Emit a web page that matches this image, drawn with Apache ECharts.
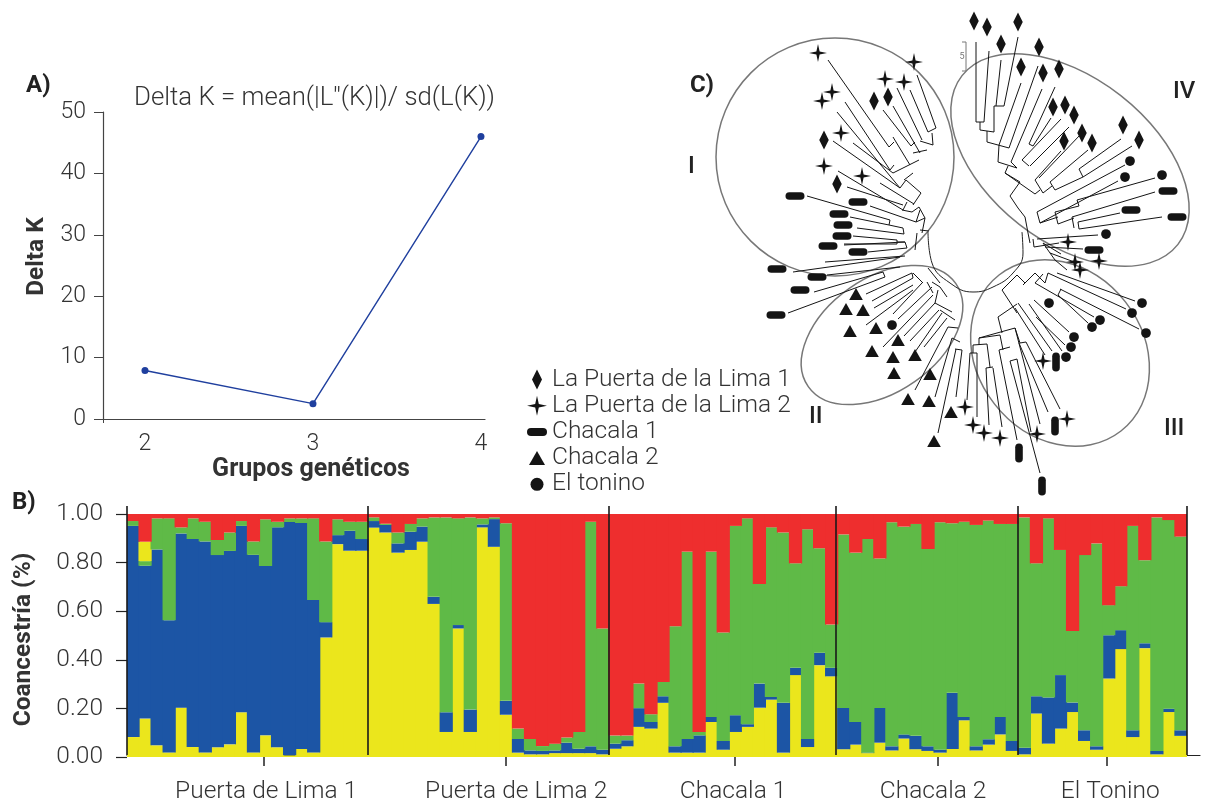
<!DOCTYPE html>
<html><head><meta charset="utf-8">
<style>html,body{margin:0;padding:0;background:#fff}#c{width:1216px;height:804px}</style>
<script src="https://cdn.jsdelivr.net/npm/echarts@6/dist/echarts.min.js"></script>
</head><body><div id="c"></div>
<script>
// ---------- Panel A ----------
const kValues = [[2, 7.9], [3, 2.5], [4, 46]];
const kTicks = [2, 3, 4];

// ---------- Panel B: cumulative tops of each layer per individual ----------
const populations = ['Puerta de Lima 1', 'Puerta de Lima 2', 'Chacala 1', 'Chacala 2', 'El Tonino'];
const populationBoundaries = [0, 20, 40, 58.85, 73.9, 87.95];
const populationTicks = [11.37, 31.4, 50.4, 67.3, 81.3];
const populationLabelAt = [11.55, 32.3, 50.3, 66.9, 81.6];
const coTicks = [0, 0.2, 0.4, 0.6, 0.8, 1];
const yellowTop = [
 .082,.158,.048,.019,.203,.041,.019,.040,.052,.184,.019,.089,.040,.007,.033,.019,.492,.876,.849,.849,
 .944,.924,.841,.852,.886,.630,.103,.529,.103,.945,.865,.174,.018,.011,.011,.016,.016,.016,.016,.011,
 .034,.044,.124,.117,.223,.018,.018,.018,.144,.030,.103,.124,.203,.236,.018,.337,.041,.378,.332,
 .032,.051,.016,.059,.027,.076,.032,.025,.018,.033,.151,.027,.051,.093,.025,
 .011,.179,.055,.117,.185,.066,.030,.323,.444,.082,.448,.011,.185,.087];
const blueTop = [
 .951,.787,.854,.563,.920,.897,.887,.831,.848,.951,.832,.786,.945,.967,.963,.646,.555,.913,.931,.897,
 .971,.955,.879,.927,.948,.659,.184,.543,.195,.957,.979,.231,.074,.027,.025,.027,.059,.034,.044,.030,
 .055,.069,.201,.144,.250,.044,.074,.089,.165,.066,.172,.135,.302,.247,.223,.367,.074,.429,.367,
 .202,.144,.018,.202,.044,.093,.087,.044,.030,.264,.165,.044,.073,.165,.066,
 .038,.250,.245,.337,.224,.110,.044,.501,.522,.110,.468,.025,.199,.110];
const greenLowTop = { 1: .806 };   // individual 2: small green block under its upper yellow block
const yellowHighTop = { 1: .886 }; // individual 2: upper yellow block
const greenTop = [
 .971,.886,.982,.982,.945,.982,.968,.893,.924,.971,.887,.978,.968,.982,.982,.982,.887,.978,.968,.968,
 .986,.960,.924,.959,.982,.986,.986,.982,.986,.982,.986,.962,.117,.074,.045,.055,.080,.103,.968,.529,
 .088,.088,.302,.176,.309,.538,.845,.103,.845,.512,.951,.982,.712,.945,.924,.797,.937,.859,.545,
 .916,.841,.897,.817,.966,.948,.959,.856,.966,.962,.968,.955,.973,.959,.959,
 .986,.797,.982,.852,.519,.831,.879,.625,.703,.951,.810,.986,.975,.907];
const individuals = yellowTop.map((_, i) => String(i + 1));

// ---------- Panel C: dendrogram (x, y on a hidden scale) ----------
const diamonds = [[874,101],[888,97],[824,140],[837,184],[974,21],[987,27],[1018,22],[1001,44],[1039,47],[1021,67],[1043,73],[1059,69],[1053,107],[1065,105],[1074,115],[1082,133],[1064,141],[1092,143],[1123,125],[1139,140]];
const stars = [[818,53],[914,62],[885,79],[904,82],[832,92],[822,101],[841,133],[824,166],[862,176],[1068,242],[1099,261],[1075,262],[1080,270],[1043,361],[1067,419],[1037,434],[965,407],[973,425],[984,433],[1000,438]];
const pillsFlat = [[795,196],[858,202],[839,214],[843,225],[842,236],[828,246],[858,252],[777,269],[817,277],[800,290],[776,315],[1168,191],[1131,210],[1177,217],[1094,250]];
const pillsUpright = [[1056,362],[1055,426],[1019,453],[1042,486]];
const triangles = [[856,294],[846,309],[863,310],[850,331],[876,328],[898,340],[872,351],[893,357],[915,355],[894,373],[930,374],[908,399],[929,401],[951,412],[934,441]];
const circles = [[892,325],[1130,161],[1125,177],[1162,175],[1106,234],[1142,303],[1132,313],[1146,333],[1100,320],[1092,327],[1049,303],[1074,337],[1071,347],[1066,357]];

// cluster outlines: centre x, centre y, semi-axis a, semi-axis b, tilt in degrees
const clusterOutlines = [[835,157,119,119,0],[882,335,90,57,35],[1060,353,99,83,-52],[1070,160,137,82,-38]];
const centreArc = [[928,232],[932,263],[950,283],[973,292],[993,287],[1013,273],[1023,253],[1022,232]];
const scaleBar = [[962,42],[966,42],[966,71],[962,71]];

const branches = [
 // cluster IV
 [976,42,976,122],[976,122,984,122],[989,51,984,122],[980,122,980,130],[980,130,994,132],[994,106,994,132],
 [1001,60,996,106],[1018,37,1004,106],[994,106,1004,106],[987,131,987,142],[987,142,1009,148],[1021,83,999,145],[1038,66,1009,148],
 [999,145,998,162],[998,162,1017,168],[1042,89,1011,162],[1055,87,1029,144],[1029,144,1033,146],[1051,118,1033,146],
 [1061,119,1022,160],[1022,160,1029,166],[1069,127,1030,166],[1011,162,1017,168],[1005,173,1008,166],[1005,173,1035,194],[1035,194,1040,190],
 [1061,151,1035,180],[1080,135,1039,178],[1088,150,1050,182],[1121,139,1079,169],[1132,146,1083,177],[1079,169,1083,177],
 [1035,180,1043,193],[1043,193,1052,186],[1050,182,1055,190],[1055,190,1083,177],
 [1020,182,1010,196],[1010,196,1018,208],[1018,208,1025,217],[1025,217,1028,233],[1028,233,1030,243],[1020,182,1005,173],
 [1125,165,1037,212],[1118,181,1040,223],[1037,212,1040,223],[1040,223,1058,217],[1155,178,1077,200],[1077,200,1079,206],[1079,206,1055,212],
 [1055,212,1058,224],[1058,224,1074,218],[1155,192,1072,217],[1072,217,1074,228],[1120,213,1078,222],[1078,222,1079,229],[1162,217,1079,229],
 [1098,235,1037,239],[1059,243,1034,247],[1033,239,1034,247],[1061,254,1043,243],[1083,249,1045,247],[1050,253,1077,263],[1055,260,1067,270],[1043,243,1050,253],[1050,253,1055,260],
 // cluster III
 [1135,301,1057,273],[1126,309,1048,273],[1045,283,1048,273],[1139,329,1060,289],[1058,295,1061,289],[1094,317,1035,283],[1088,323,1058,295],
 [1069,332,1034,300],[1062,351,1029,304],[1065,345,1036,317],[1052,351,1018,303],[1045,355,1015,308],[1060,409,1026,342],[1048,412,1019,343],
 [1040,424,1015,328],[1040,473,1010,361],[1010,361,1017,359],[1017,440,999,350],[999,350,1010,347],[1031,432,1017,359],[1002,427,993,368],[989,425,986,368],[986,368,993,367],
 [977,417,977,353],[967,400,970,353],[970,353,977,353],[973,345,973,353],[973,345,987,344],[987,344,990,367],[979,338,979,345],[979,338,1000,335],[1000,335,1003,350],
 [998,317,1002,333],[998,317,1017,304],[1015,328,979,338],[1015,328,1020,343],[1020,343,1026,342],[1002,290,1017,313],[1002,290,1017,275],[1017,275,1025,283],[1023,285,1035,273],[1035,273,1045,283],[1035,283,1043,274],
 // cluster II
 [793,272,900,257],[827,275,900,267],[814,292,883,272],[788,313,885,277],[883,272,885,277],[866,294,912,273],[872,301,913,278],[912,273,913,278],
 [874,308,913,285],[893,314,922,283],[866,325,913,290],[898,319,932,287],[883,347,933,295],[904,336,935,303],[910,341,939,310],[915,352,942,313],
 [924,347,947,318],[915,390,948,327],[935,397,952,338],[938,433,956,349],[956,397,962,350],[913,273,923,283],[927,282,933,293],[932,282,940,287],[940,287,947,297],
 [938,290,935,303],[935,303,952,312],[940,310,955,320],[948,327,958,328],[952,338,960,342],[955,349,962,350],[928,268,940,283],
 // cluster I
 [828,60,889,147],[889,147,894,142],[845,102,890,170],[890,170,894,165],[837,112,900,188],[900,188,906,180],[833,141,900,188],[853,143,893,173],[893,137,910,165],
 [883,110,911,146],[911,146,915,142],[893,106,920,153],[897,88,922,140],[910,90,928,132],[917,75,936,128],[928,132,936,128],[920,141,933,145],[932,133,933,145],
 [913,153,927,150],[893,173,919,160],[904,180,913,173],[880,183,914,204],[913,205,921,193],[921,193,906,180],[838,171,903,210],[847,187,903,205],[903,210,907,202],
 [902,210,912,212],[912,212,919,207],[919,207,925,218],[916,222,925,218],[925,218,922,233],[920,230,929,231],[917,233,915,250],
 [807,196,890,220],[890,220,889,225],[870,206,916,222],[916,222,920,210],[850,217,889,225],[857,228,904,234],[904,234,903,228],[889,225,903,228],
 [853,236,897,240],[844,244,897,244],[897,240,897,244],[868,252,907,248],[905,242,907,248],[897,242,905,242],[844,245,905,242],[825,262,905,256]
];

// symbols share one 20x20 box, so legend keys and chart marks keep their proportions
const box = 'M0 0M20 20';
const symDiamond = 'path://' + box + 'M10 0L15 10L10 20L5 10Z';
const symStar = 'path://' + box + 'M10 0L11.8 8.2L20 10L11.8 11.8L10 20L8.2 11.8L0 10L8.2 8.2Z';
const symPill = 'path://' + box + 'M4 6H16A4 4 0 0 1 16 14H4A4 4 0 0 1 4 6Z';
const symTriangle = 'path://' + box + 'M10 3L18 17L2 17Z';
const symCircle = 'path://' + box + 'M3.5 10A6.5 6.5 0 1 1 16.5 10A6.5 6.5 0 1 1 3.5 10Z';

const FONT = 'Roboto';
const INK = '#333333';
const DARK = '#141414';
const BLUE_LINE = '#1f3f9e';
const COL = { yellow: '#ebe61c', blue: '#1c55a5', green: '#5fba47', red: '#ee2e2e' };

// layer sizes from the read tops; layers an individual does not have stay empty
const segYellow = yellowTop;
const segBlue = blueTop.map((v, i) => +(v - yellowTop[i]).toFixed(3));
const segGreenLow = blueTop.map((v, i) => greenLowTop[i] !== undefined ? +(greenLowTop[i] - v).toFixed(3) : null);
const segYellowHigh = blueTop.map((v, i) => yellowHighTop[i] !== undefined ? +(yellowHighTop[i] - greenLowTop[i]).toFixed(3) : null);
const segGreen = greenTop.map((v, i) => {
  const under = yellowHighTop[i] !== undefined ? yellowHighTop[i] : blueTop[i];
  const size = +(v - under).toFixed(3);
  return size > 0 ? size : null;
});
const segRed = greenTop.map(v => +(1 - v).toFixed(3));

const barLayer = (name, data, color) => ({
  type: 'bar', name, stack: 'co', data, xAxisIndex: 1, yAxisIndex: 1,
  barWidth: '110%', itemStyle: { color }, silent: true, animation: false
});
const marks = (name, data, symbol, size, extra) => Object.assign({
  type: 'scatter', name, data, xAxisIndex: 2, yAxisIndex: 2, symbol, symbolSize: size, clip: false,
  itemStyle: { color: DARK, opacity: 1 }, silent: true, animation: false, z: 6
}, extra || {});

const texts = [
  ['A)', 26, 83, 24, 700], ['B)', 12, 500, 24, 700], ['C)', 690, 83, 24, 700],
  ['I', 688, 164, 24, 500], ['II', 809, 414, 24, 500], ['III', 1164, 426, 24, 500], ['IV', 1173, 89, 24, 500],
  ["Delta K = mean(|L''(K)|)/ sd(L(K))", 134, 96, 25.8, 300],
  ['5', 959.5, 54, 9, 400]
];

const option = {
  backgroundColor: '#ffffff',
  animation: false,
  textStyle: { fontFamily: FONT },
  legend: {
    left: 522, top: 362, orient: 'vertical', itemWidth: 20, itemHeight: 20, itemGap: 1.2, selectedMode: false,
    symbolKeepAspect: true,
    textStyle: { fontFamily: FONT, fontSize: 24.5, fontWeight: 300, color: INK },
    data: [
      { name: 'La Puerta de la Lima 1', icon: symDiamond },
      { name: 'La Puerta de la Lima 2', icon: symStar },
      { name: 'Chacala 1', icon: symPill },
      { name: 'Chacala 2', icon: symTriangle },
      { name: 'El tonino', icon: symCircle }
    ]
  },
  grid: [
    { left: 103, top: 112, width: 382, height: 307 },
    { left: 127, top: 514, width: 1060, height: 243 },
    { left: 680, top: 0, width: 536, height: 500 },
    { left: 127, top: 506, width: 1073, height: 251 }
  ],
  xAxis: [
    { gridIndex: 0, type: 'value', min: 1.75, max: 4.024, position: 'bottom',
      axisLine: { onZero: false, lineStyle: { color: '#444', width: 1.2 } },
      axisTick: { show: true, length: 4, inside: false, customValues: [1.75], lineStyle: { color: '#444' } },
      splitLine: { show: false },
      axisLabel: { customValues: kTicks, margin: 14, fontSize: 23, fontWeight: 300, color: INK, formatter: v => String(v) },
      name: 'Grupos gen\u00e9ticos', nameLocation: 'middle', nameGap: 33,
      nameTextStyle: { fontSize: 25, fontWeight: 700, color: INK, padding: [0, 0, 0, 34] } },
    { gridIndex: 1, type: 'category', data: individuals, axisLine: { show: false }, axisTick: { show: false }, axisLabel: { show: false }, splitLine: { show: false } },
    { gridIndex: 2, type: 'value', min: 680, max: 1216, show: false },
    { gridIndex: 3, type: 'value', min: 0, max: 89.05, position: 'bottom',
      axisLine: { onZero: false, lineStyle: { color: '#222', width: 1.2 } },
      axisTick: { show: true, length: 11, customValues: populationTicks, lineStyle: { color: '#222', width: 1.5 } },
      axisLabel: { show: false }, splitLine: { show: false } },
    { gridIndex: 3, type: 'value', min: 0, max: 89.05, position: 'bottom',
      axisLine: { show: false }, axisTick: { show: false }, splitLine: { show: false },
      axisLabel: { customValues: populationLabelAt, margin: 24, fontSize: 24.5, fontWeight: 300, color: INK,
        formatter: v => populations[populationLabelAt.indexOf(v)] } }
  ],
  yAxis: [
    { gridIndex: 0, type: 'value', min: 0, max: 50, interval: 10,
      axisLine: { show: true, lineStyle: { color: '#444', width: 1.2 } },
      axisTick: { show: true, length: 9, lineStyle: { color: '#444' } }, splitLine: { show: false },
      axisLabel: { margin: 17, fontSize: 23, fontWeight: 300, color: INK },
      name: 'Delta K', nameLocation: 'middle', nameGap: 54, nameRotate: 90,
      nameTextStyle: { fontSize: 24.5, fontWeight: 700, color: INK, padding: [0, 0, 0, 18] } },
    { gridIndex: 1, type: 'value', min: 0, max: 1, interval: 0.2,
      axisLine: { show: false },
      axisTick: { show: true, length: 11, lineStyle: { color: '#222', width: 1.2 } }, splitLine: { show: false },
      axisLabel: { margin: 24, fontSize: 24.5, fontWeight: 300, color: INK, formatter: v => coTicks.includes(+v.toFixed(1)) ? v.toFixed(2) : '' },
      name: 'Coancestr\u00eda (%)', nameLocation: 'middle', nameGap: 91, nameRotate: 90,
      nameTextStyle: { fontSize: 24.5, fontWeight: 700, color: INK, padding: [0, 8, 0, 0] } },
    { gridIndex: 2, type: 'value', min: 0, max: 500, inverse: true, show: false },
    { gridIndex: 3, type: 'value', min: 0, max: 1, show: false }
  ],
  series: [
    { type: 'line', name: 'Delta K', data: kValues, xAxisIndex: 0, yAxisIndex: 0, symbol: 'circle', symbolSize: 7,
      clip: false, silent: true, lineStyle: { color: BLUE_LINE, width: 1.4 }, itemStyle: { color: BLUE_LINE } },

    barLayer('Amarillo', segYellow, COL.yellow),
    barLayer('Azul', segBlue, COL.blue),
    barLayer('Verde bajo', segGreenLow, COL.green),
    barLayer('Amarillo alto', segYellowHigh, COL.yellow),
    barLayer('Verde', segGreen, COL.green),
    barLayer('Rojo', segRed, COL.red),

    { type: 'scatter', name: 'Separadores', data: [], xAxisIndex: 3, yAxisIndex: 3, silent: true, z: 8,
      markLine: { symbol: 'none', silent: true, animation: false, label: { show: false },
        lineStyle: { color: '#1a1a1a', width: 1.6, type: 'solid' },
        data: populationBoundaries.map(b => ({ xAxis: b })) } },

    { type: 'custom', name: 'Dendrograma', data: branches, xAxisIndex: 2, yAxisIndex: 2, silent: true, clip: false, animation: false,
      encode: { x: [0, 2], y: [1, 3] }, z: 4,
      renderItem: (params, api) => {
        const a = api.coord([api.value(0), api.value(1)]);
        const b = api.coord([api.value(2), api.value(3)]);
        return { type: 'line', shape: { x1: a[0], y1: a[1], x2: b[0], y2: b[1] }, style: { stroke: DARK, lineWidth: 1, fill: null } };
      } },

    { type: 'custom', name: 'Grupos', data: clusterOutlines, xAxisIndex: 2, yAxisIndex: 2, silent: true, clip: false, animation: false,
      encode: { x: 0, y: 1 }, z: 3,
      renderItem: (params, api) => {
        const c = api.coord([api.value(0), api.value(1)]);
        const sz = api.size([1, 1]);
        return { type: 'ellipse', x: c[0], y: c[1], rotation: api.value(4) * Math.PI / 180,
          shape: { cx: 0, cy: 0, rx: api.value(2) * sz[0], ry: api.value(3) * sz[1] },
          style: { stroke: '#777777', lineWidth: 1.5, fill: null } };
      } },

    { type: 'line', name: 'Arco central', data: centreArc, xAxisIndex: 2, yAxisIndex: 2, smooth: 0.45, symbol: 'none', silent: true,
      clip: false, animation: false, lineStyle: { color: '#222', width: 1 }, z: 3 },
    { type: 'line', name: 'Escala', data: scaleBar, xAxisIndex: 2, yAxisIndex: 2, symbol: 'none', silent: true,
      clip: false, animation: false, lineStyle: { color: '#777', width: 1 }, z: 3 },

    marks('La Puerta de la Lima 1', diamonds, symDiamond, 19),
    marks('La Puerta de la Lima 2', stars, symStar, 18),
    marks('Chacala 1', pillsFlat.concat(pillsUpright.map(p => ({ value: p, symbolRotate: 90 }))), symPill, 19),
    marks('Chacala 2', triangles, symTriangle, 17),
    marks('El tonino', circles, symCircle, 15)
  ],
  graphic: texts.map(t => ({
    type: 'text', left: t[1], top: t[2] - t[3] * 0.5 + 2.5, silent: true,
    style: { text: t[0], fontFamily: FONT, fontSize: t[3], fontWeight: t[4], fill: t[3] < 10 ? '#777' : (t[4] >= 500 ? '#222' : INK) }
  }))
};

const chart = echarts.init(document.getElementById('c'), null, { renderer: 'canvas', width: 1216, height: 804 });
chart.setOption(option);
</script></body></html>
